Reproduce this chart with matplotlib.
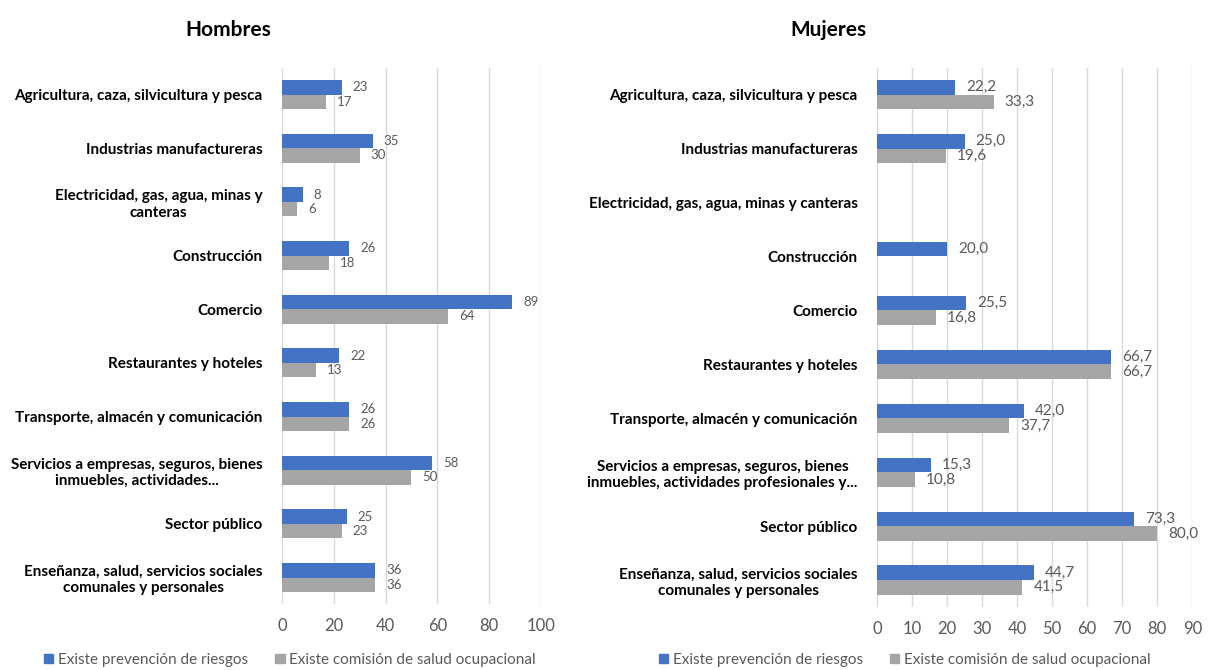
import matplotlib.pyplot as plt
import numpy as np

plt.rcParams['font.family'] = ['Lato', 'DejaVu Sans']

# datos
cats_h = ['Agricultura, caza, silvicultura y pesca',
          'Industrias manufactureras',
          'Electricidad, gas, agua, minas y\ncanteras',
          'Construcción',
          'Comercio',
          'Restaurantes y hoteles',
          'Transporte, almacén y comunicación',
          'Servicios a empresas, seguros, bienes\ninmuebles, actividades...',
          'Sector público',
          'Enseñanza, salud, servicios sociales\ncomunales y personales']
prev_h = [23, 35, 8, 26, 89, 22, 26, 58, 25, 36]
comi_h = [17, 30, 6, 18, 64, 13, 26, 50, 23, 36]

cats_m = ['Agricultura, caza, silvicultura y pesca',
          'Industrias manufactureras',
          'Electricidad, gas, agua, minas y canteras',
          'Construcción',
          'Comercio',
          'Restaurantes y hoteles',
          'Transporte, almacén y comunicación',
          'Servicios a empresas, seguros, bienes\ninmuebles, actividades profesionales y...',
          'Sector público',
          'Enseñanza, salud, servicios sociales\ncomunales y personales']
prev_m = [22.2, 25.0, None, 20.0, 25.5, 66.7, 42.0, 15.3, 73.3, 44.7]
comi_m = [33.3, 19.6, None, None, 16.8, 66.7, 37.7, 10.8, 80.0, 41.5]

serie1 = 'Existe prevención de riesgos'
serie2 = 'Existe comisión de salud ocupacional'
azul = '#4472C4'
gris = '#A5A5A5'
txt = '#595959'


def panel(ax, cats, v1, v2, xmax, step, fmt, lblsize):
    y = np.arange(len(cats))
    h = 0.27
    for vals, off, col in [(v1, -h / 2, azul), (v2, h / 2, gris)]:
        for i, v in enumerate(vals):
            if v is None:
                continue
            ax.barh(y[i] + off, v, height=h, color=col, zorder=3)
            ax.annotate(fmt(v), (v, y[i] + off), xytext=(8, 0), textcoords='offset points',
                        va='center', ha='left', fontsize=lblsize, color=txt)
    ax.set_yticks(y)
    ax.set_yticklabels(cats, fontweight='bold', fontsize=11, multialignment='center')
    ax.set_ylim(len(cats) - 0.5, -0.5)
    ax.set_xlim(0, xmax)
    ax.set_xticks(np.arange(0, xmax + 1, step))
    ax.tick_params(axis='x', length=0, labelsize=12, labelcolor=txt, pad=10)
    ax.tick_params(axis='y', length=0, pad=14)
    ax.grid(axis='x', color='#D9D9D9', linewidth=1, zorder=0)
    for s in ax.spines.values():
        s.set_visible(False)


fig = plt.figure(figsize=(12.08, 6.7), dpi=100)
ax1 = fig.add_axes([0.2334, 0.098, 0.2144, 0.801])
ax2 = fig.add_axes([0.726, 0.094, 0.261, 0.805])

panel(ax1, cats_h, prev_h, comi_h, 100, 20, lambda v: f'{v:d}', 9.5)
panel(ax2, cats_m, prev_m, comi_m, 90, 10, lambda v: f'{v:.1f}'.replace('.', ','), 11)

fig.text(0.189, 0.955, 'Hombres', fontsize=15, fontweight='bold', ha='center', va='center')
fig.text(0.686, 0.955, 'Mujeres', fontsize=15, fontweight='bold', ha='center', va='center')

# leyendas
h1 = plt.Rectangle((0, 0), 1, 1, color=azul)
h2 = plt.Rectangle((0, 0), 1, 1, color=gris)
for cx in [0.24, 0.749]:
    fig.legend([h1, h2], [serie1, serie2], loc='center', bbox_to_anchor=(cx, 0.015),
               ncol=2, frameon=False, fontsize=11, labelcolor=txt,
               handlelength=0.6, handleheight=0.6, handletextpad=0.3, columnspacing=1.8)

plt.savefig('out.png', dpi=100)
